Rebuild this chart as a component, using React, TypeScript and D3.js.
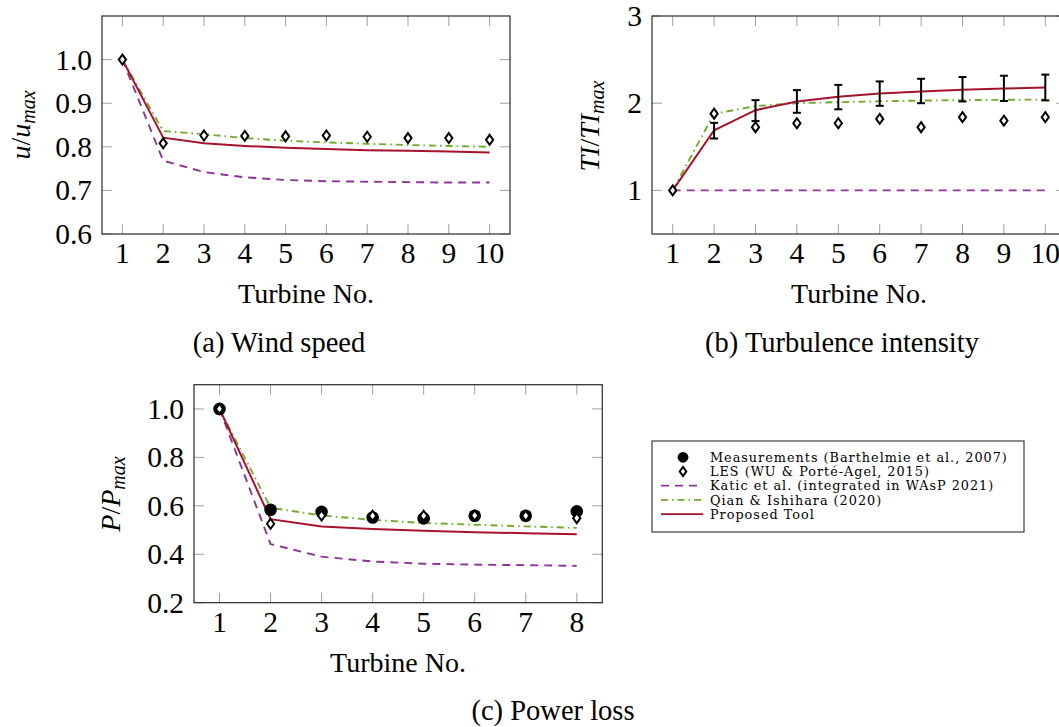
import React from 'react';
import * as d3 from 'd3';

// ---------- data ----------
const turbines10 = [1, 2, 3, 4, 5, 6, 7, 8, 9, 10];
const turbines8 = [1, 2, 3, 4, 5, 6, 7, 8];

// (a) wind speed u/u_max
const windLES = [1.0, 0.808, 0.826, 0.825, 0.824, 0.826, 0.823, 0.82, 0.82, 0.816];
const windProposed = [1.0, 0.821, 0.808, 0.802, 0.798, 0.795, 0.792, 0.791, 0.789, 0.787];
const windQian = [1.0, 0.836, 0.829, 0.82, 0.814, 0.81, 0.807, 0.804, 0.802, 0.8];
const windKatic = [1.0, 0.768, 0.742, 0.73, 0.724, 0.721, 0.72, 0.719, 0.718, 0.718];

// (b) turbulence intensity TI/TI_max
const tiLES = [1.0, 1.88, 1.725, 1.77, 1.77, 1.82, 1.725, 1.84, 1.8, 1.84];
const tiProposed = [1.0, 1.69, 1.92, 2.02, 2.075, 2.11, 2.135, 2.155, 2.168, 2.18];
const tiQian = [1.0, 1.88, 1.966, 2.0, 2.012, 2.022, 2.03, 2.035, 2.039, 2.042];
const tiKatic = [1, 1, 1, 1, 1, 1, 1, 1, 1, 1];
const tiMeasTurbines = [2, 3, 4, 5, 6, 7, 8, 9, 10];
const tiMeasMean = [1.685, 1.915, 2.02, 2.07, 2.11, 2.14, 2.16, 2.17, 2.18];
const tiMeasErr = [0.09, 0.12, 0.13, 0.14, 0.14, 0.14, 0.14, 0.145, 0.148];

// (c) power P/P_max
const powerMeas = [1.0, 0.584, 0.575, 0.552, 0.548, 0.559, 0.559, 0.577];
const powerLES = [1.0, 0.526, 0.56, 0.559, 0.559, 0.56, 0.559, 0.549];
const powerProposed = [1.0, 0.545, 0.515, 0.504, 0.497, 0.491, 0.487, 0.483];
const powerQian = [1.0, 0.592, 0.56, 0.542, 0.529, 0.522, 0.515, 0.509];
const powerKatic = [1.0, 0.442, 0.39, 0.37, 0.361, 0.357, 0.355, 0.352];

const yTicksA = [0.6, 0.7, 0.8, 0.9, 1.0];
const yTicksB = [1, 2, 3];
const yTicksC = [0.2, 0.4, 0.6, 0.8, 1.0];

const legendLabels = [
  'Measurements (Barthelmie et al., 2007)',
  'LES (WU & Porté-Agel, 2015)',
  'Katic et al. (integrated in WAsP 2021)',
  'Qian & Ishihara (2020)',
  'Proposed Tool',
];

// ---------- style ----------
const FONT = "'Liberation Serif', 'Times New Roman', serif";
const LEGEND_FONT = "'DejaVu Serif', 'Liberation Serif', serif";
const RED = '#a6122d';
const GREEN = '#72aa2c';
const PURPLE = '#8b3597';
const TICK = '#a0a0a0';
const FRAME = '#2a2a2a';
const DASH = '8,6';
const DASHDOT = '7,4,1.6,4';

type Box = { left: number; right: number; top: number; bottom: number };

const Diamond = ({ x, y, hw = 3.6, hh = 5 }: { x: number; y: number; hw?: number; hh?: number }) => (
  <path
    d={`M${x},${y - hh}L${x + hw},${y}L${x},${y + hh}L${x - hw},${y}Z`}
    fill="white"
    stroke="black"
    strokeWidth={2}
  />
);

function Frame({
  box,
  x,
  y,
  xTicks,
  yTicks,
  yFmt,
}: {
  box: Box;
  x: d3.ScaleLinear<number, number>;
  y: d3.ScaleLinear<number, number>;
  xTicks: number[];
  yTicks: number[];
  yFmt: (v: number) => string;
}) {
  const L = 10;
  return (
    <g>
      {xTicks.map((t) => (
        <g key={'x' + t}>
          <line x1={x(t)} x2={x(t)} y1={box.bottom} y2={box.bottom - L} stroke={TICK} strokeWidth={1} />
          <line x1={x(t)} x2={x(t)} y1={box.top} y2={box.top + L} stroke={TICK} strokeWidth={1} />
          <text x={x(t)} y={box.bottom + 29} textAnchor="middle" fontFamily={FONT} fontSize={29.5}>
            {t}
          </text>
        </g>
      ))}
      {yTicks.map((t) => (
        <g key={'y' + t}>
          <line x1={box.left} x2={box.left + L} y1={y(t)} y2={y(t)} stroke={TICK} strokeWidth={1} />
          <line x1={box.right} x2={box.right - L} y1={y(t)} y2={y(t)} stroke={TICK} strokeWidth={1} />
          <text
            x={box.left - 10}
            y={y(t)}
            dy="0.34em"
            textAnchor="end"
            fontFamily={FONT}
            fontSize={29.5}
          >
            {yFmt(t)}
          </text>
        </g>
      ))}
      <rect
        x={box.left}
        y={box.top}
        width={box.right - box.left}
        height={box.bottom - box.top}
        fill="none"
        stroke={FRAME}
        strokeWidth={1.2}
      />
    </g>
  );
}

function seriesPath(
  xs: number[],
  ys: number[],
  x: d3.ScaleLinear<number, number>,
  y: d3.ScaleLinear<number, number>
) {
  const line = d3
    .line<number>()
    .x((_, i) => x(xs[i]))
    .y((d) => y(d));
  return line(ys) || '';
}

function Lines({
  xs,
  katic,
  qian,
  proposed,
  x,
  y,
}: {
  xs: number[];
  katic: number[];
  qian: number[];
  proposed: number[];
  x: d3.ScaleLinear<number, number>;
  y: d3.ScaleLinear<number, number>;
}) {
  return (
    <g fill="none">
      <path d={seriesPath(xs, katic, x, y)} stroke={PURPLE} strokeWidth={1.9} strokeDasharray={DASH} />
      <path d={seriesPath(xs, qian, x, y)} stroke={GREEN} strokeWidth={1.9} strokeDasharray={DASHDOT} />
      <path d={seriesPath(xs, proposed, x, y)} stroke={RED} strokeWidth={2} />
    </g>
  );
}

function YLabel({ x, y, main, sub }: { x: number; y: number; main: React.ReactNode; sub: string }) {
  return (
    <text transform={`translate(${x},${y}) rotate(-90)`} textAnchor="middle" fontFamily={FONT} fontSize={28}>
      {main}
      <tspan fontStyle="italic" fontSize={20} dy={5}>
        {sub}
      </tspan>
    </text>
  );
}

export default function App() {
  // panel a
  const boxA: Box = { left: 102, right: 510, top: 16, bottom: 234 };
  const xA = d3.scaleLinear().domain([0.5, 10.5]).range([boxA.left, boxA.right]);
  const yA = d3.scaleLinear().domain([0.6, 1.1]).range([boxA.bottom, boxA.top]);

  // panel b
  const boxB: Box = { left: 652, right: 1066, top: 16, bottom: 234 };
  const xB = d3.scaleLinear().domain([0.5, 10.5]).range([boxB.left, boxB.right]);
  const yB = d3.scaleLinear().domain([0.5, 3]).range([boxB.bottom, boxB.top]);

  // panel c
  const boxC: Box = { left: 194, right: 602.3, top: 384.7, bottom: 602.7 };
  const xC = d3.scaleLinear().domain([0.5, 8.5]).range([boxC.left, boxC.right]);
  const yC = d3.scaleLinear().domain([0.2, 1.1]).range([boxC.bottom, boxC.top]);

  const f1 = d3.format('.1f');
  const f0 = d3.format('d');

  // legend
  const lg = { left: 652, top: 441, width: 372, height: 91 };
  const rowY = (i: number) => 457.3 + i * 14.2;

  return (
    <svg
      width={1059}
      height={727}
      style={{ position: 'fixed', left: 0, top: 0, background: 'white' }}
    >
      <rect x={0} y={0} width={1059} height={727} fill="white" />

      {/* ---------- (a) ---------- */}
      <Lines xs={turbines10} katic={windKatic} qian={windQian} proposed={windProposed} x={xA} y={yA} />
      {turbines10.map((t, i) => (
        <Diamond key={'la' + t} x={xA(t)} y={yA(windLES[i])} />
      ))}
      <Frame box={boxA} x={xA} y={yA} xTicks={turbines10} yTicks={yTicksA} yFmt={f1} />
      <YLabel
        x={30}
        y={125}
        main={
          <>
            <tspan fontStyle="italic">u</tspan>
            <tspan>/</tspan>
            <tspan fontStyle="italic">u</tspan>
          </>
        }
        sub="max"
      />
      <text x={306} y={303} textAnchor="middle" fontFamily={FONT} fontSize={28}>
        Turbine No.
      </text>
      <text x={279} y={352} textAnchor="middle" fontFamily={FONT} fontSize={28.5}>
        (a) Wind speed
      </text>

      {/* ---------- (b) ---------- */}
      <Lines xs={turbines10} katic={tiKatic} qian={tiQian} proposed={tiProposed} x={xB} y={yB} />
      {tiMeasTurbines.map((t, i) => {
        const cx = xB(t);
        const y1 = yB(tiMeasMean[i] + tiMeasErr[i]);
        const y2 = yB(tiMeasMean[i] - tiMeasErr[i]);
        return (
          <g key={'eb' + t} stroke="black" strokeWidth={2}>
            <line x1={cx} x2={cx} y1={y1} y2={y2} />
            <line x1={cx - 4} x2={cx + 4} y1={y1} y2={y1} />
            <line x1={cx - 4} x2={cx + 4} y1={y2} y2={y2} />
          </g>
        );
      })}
      {turbines10.map((t, i) => (
        <Diamond key={'lb' + t} x={xB(t)} y={yB(tiLES[i])} />
      ))}
      <Frame box={boxB} x={xB} y={yB} xTicks={turbines10} yTicks={yTicksB} yFmt={f0} />
      <YLabel
        x={599}
        y={126}
        main={
          <>
            <tspan fontStyle="italic">TI</tspan>
            <tspan>/</tspan>
            <tspan fontStyle="italic">TI</tspan>
          </>
        }
        sub="max"
      />
      <text x={859} y={303} textAnchor="middle" fontFamily={FONT} fontSize={28}>
        Turbine No.
      </text>
      <text x={842} y={352} textAnchor="middle" fontFamily={FONT} fontSize={28.5}>
        (b) Turbulence intensity
      </text>

      {/* ---------- (c) ---------- */}
      <Lines xs={turbines8} katic={powerKatic} qian={powerQian} proposed={powerProposed} x={xC} y={yC} />
      {turbines8.map((t, i) => (
        <circle key={'mc' + t} cx={xC(t)} cy={yC(powerMeas[i])} r={6.3} fill="black" />
      ))}
      {turbines8.map((t, i) => (
        <Diamond key={'lc' + t} x={xC(t)} y={yC(powerLES[i])} />
      ))}
      <Frame box={boxC} x={xC} y={yC} xTicks={turbines8} yTicks={yTicksC} yFmt={f1} />
      <YLabel
        x={120}
        y={494}
        main={
          <>
            <tspan fontStyle="italic">P</tspan>
            <tspan>/</tspan>
            <tspan fontStyle="italic">P</tspan>
          </>
        }
        sub="max"
      />
      <text x={398} y={672} textAnchor="middle" fontFamily={FONT} fontSize={28}>
        Turbine No.
      </text>
      <text x={553} y={720} textAnchor="middle" fontFamily={FONT} fontSize={28.5}>
        (c) Power loss
      </text>

      {/* ---------- legend ---------- */}
      <rect
        x={lg.left}
        y={lg.top}
        width={lg.width}
        height={lg.height}
        fill="white"
        stroke={FRAME}
        strokeWidth={1.1}
      />
      <circle cx={683} cy={rowY(0)} r={5.4} fill="black" />
      <Diamond x={683} y={rowY(1)} hw={3.3} hh={4.6} />
      <line x1={661} x2={703} y1={rowY(2)} y2={rowY(2)} stroke={PURPLE} strokeWidth={1.8} strokeDasharray={DASH} />
      <line x1={661} x2={703} y1={rowY(3)} y2={rowY(3)} stroke={GREEN} strokeWidth={1.8} strokeDasharray={DASHDOT} />
      <line x1={661} x2={703} y1={rowY(4)} y2={rowY(4)} stroke={RED} strokeWidth={1.9} />
      {legendLabels.map((s, i) => (
        <text key={s} x={710} y={rowY(i)} dy="0.36em" fontFamily={LEGEND_FONT} fontSize={12.8} letterSpacing={1.0}>
          {s}
        </text>
      ))}
    </svg>
  );
}
